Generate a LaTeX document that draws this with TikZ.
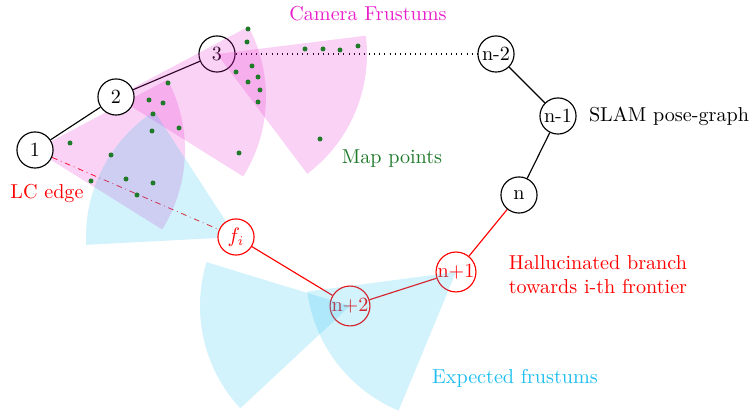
\documentclass[tikz,border=0pt]{standalone}
\usepackage{fontspec}
\usepackage{tikz}
\usetikzlibrary{positioning}
\definecolor{frustpink}{HTML}{E81ECB}
\definecolor{frustcyan}{HTML}{1EBEF0}
\definecolor{mapgreen}{HTML}{1F7A2A}
\pgfdeclarelayer{background}
\pgfdeclarelayer{front}
\pgfsetlayers{background,main,front}
\tikzset{
  pose/.style={draw,circle,semithick,minimum size=19pt,inner sep=0pt},
  halpose/.style={pose,red},
  topfill/.style={fill=white},
  odom/.style={semithick,black},
  halledge/.style={semithick,red},
  lcedge/.style={thin,red,dashdotted},
  frustum/.style={fill opacity=0.2,draw=none},
  mappt/.style={fill=mapgreen,draw=none}
}

\begin{document}
\begin{tikzpicture}[x=0.0185cm,y=0.0185cm,
    every node/.append style={font=\fontsize{10.6}{12.7}\selectfont}]
  \useasboundingbox (0,0) rectangle (751,416);

  % poses lying under the frustums
  \node[pose] (p3) at (217,362) {3};
  \node[halpose] (pnp1) at (456,144) {n+1};
  \node[halpose] (pnp2) at (350,110) {n+2};

  % poses on top
  \begin{pgfonlayer}{front}
  \node[pose,topfill] (p1) at (35,266) {1};
  \node[pose,topfill] (p2) at (116,319) {2};
  \node[pose,topfill] (pn2) at (496,362) {n-2};
  \node[pose,topfill] (pn1) at (558,300) {n-1};
  \node[pose,topfill] (pn) at (519,221) {n};
  \node[halpose,topfill] (fi) at (236,179) {$f_i$};
  \end{pgfonlayer}

  \begin{pgfonlayer}{background}
  \draw[odom] (p1) -- (p2);
  \draw[odom] (p2) -- (p3);
  \draw[odom,dash pattern=on 0.5pt off 2.2pt] (p3) -- (pn2);
  \draw[odom] (pn2) -- (pn1);
  \draw[odom] (pn1) -- (pn);
  \draw[halledge] (pn) -- (pnp1);
  \draw[halledge] (pnp1) -- (pnp2);
  \draw[halledge] (pnp2) -- (fi);
  \draw[lcedge] (p1) -- (fi);
  \end{pgfonlayer}

  % frustums (60 deg field of view)
  \foreach \ap/\ang/\col in {p1/-2/frustpink,p2/-2/frustpink,p3/-23/frustpink,
                             fi/153/frustcyan,pnp2/193/frustcyan,pnp1/217.5/frustcyan}
    \fill[frustum,\col] (\ap.center) -- +(\ang-30:150)
      arc[start angle=\ang-30, end angle=\ang+30, radius=150] -- cycle;

  % map points
  \begin{pgfonlayer}{front}
  \foreach \px/\py in {248/387,247/374,305/367,323/367,340/366,358/370,252/350,
                       236/344,258/339,248/334,260/326,258/314,168/333,149/316,
                       163/313,153/302,152/285,179/288,239/263,320/277,70/273,
                       111/261,126/237,153/233,91/235,137/221}
    \fill[mappt] (\px,\py) circle[radius=2.5];
  \end{pgfonlayer}

  \node[right=3pt of pn1] (slam) {SLAM pose-graph};
  \node[text=frustpink] (camlbl) at (368,402) {Camera Frustums};
  \node[text=mapgreen] (maplbl) at (392,257) {Map points};
  \node[text=red] (lclbl) at (47,223) {LC edge};
  \node[text=red,align=center] (hallbl) at (598,141.5) {Hallucinated branch\\towards i-th frontier};
  \node[text=frustcyan] (explbl) at (515,38) {Expected frustums};
\end{tikzpicture}
\end{document}
